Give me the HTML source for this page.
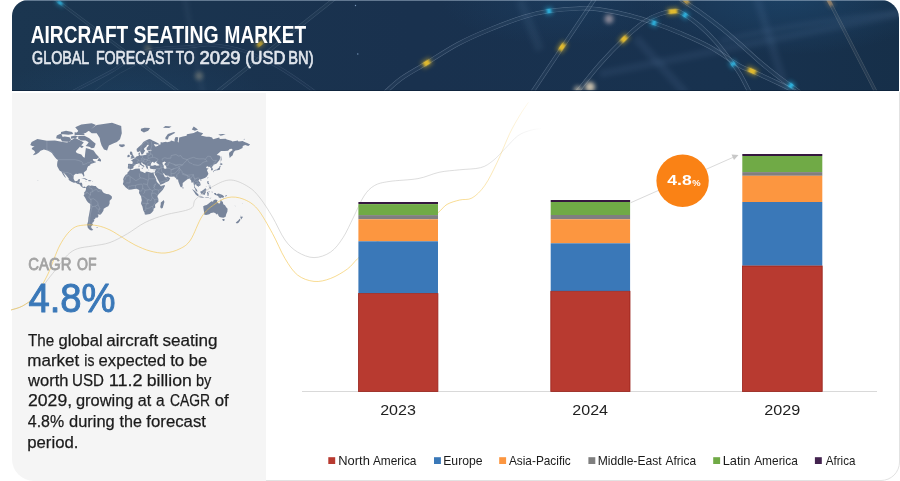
<!DOCTYPE html>
<html lang="en"><head><meta charset="utf-8"><title>Aircraft Seating Market</title>
<style>
html,body{margin:0;padding:0;background:#fff;}
body{width:900px;height:481px;overflow:hidden;position:relative;font-family:"Liberation Sans", sans-serif;}
svg{display:block;position:absolute;left:0;top:0;}
svg text{font-family:"Liberation Sans", sans-serif;}
</style></head><body>
<svg width="900" height="481" viewBox="0 0 900 481">
<defs>
<linearGradient id="hg" x1="0" y1="0" x2="1" y2="0">
<stop offset="0" stop-color="#1b3650"/><stop offset="0.45" stop-color="#19314e"/><stop offset="0.8" stop-color="#18324f"/><stop offset="1" stop-color="#162f49"/>
</linearGradient>
<clipPath id="card"><path d="M12 481V16A16 16 0 0 1 28 0H880A18 18 0 0 1 898 18V481Z"/></clipPath>
<clipPath id="hdr"><path d="M12 91V16A16 16 0 0 1 28 0H881A18 18 0 0 1 899 18V91Z"/></clipPath>
</defs>
<rect width="900" height="481" fill="#fff"/>
<!-- right panel -->
<path d="M899.5 92V462A18.500 18.500 0 0 1 881 480.500H266" fill="none" stroke="#e2e2e2" stroke-width="1"/>
<!-- left panel -->
<path d="M12 93H266V481H34A22 22 0 0 1 12 459Z" fill="#f5f5f5"/>
<!-- header -->
<g clip-path="url(#hdr)">
<rect x="12" y="0" width="888" height="91" fill="url(#hg)"/>
<defs><filter id="gl" x="-100%" y="-100%" width="300%" height="300%"><feGaussianBlur stdDeviation="2.2"/></filter><filter id="gs" x="-50%" y="-50%" width="200%" height="200%"><feGaussianBlur stdDeviation="1.0 0.35"/></filter><filter id="bb" x="-20%" y="-20%" width="140%" height="140%"><feGaussianBlur stdDeviation="2.5"/></filter><filter id="bg6" x="-50%" y="-50%" width="200%" height="200%"><feGaussianBlur stdDeviation="5"/></filter><radialGradient id="rg1" cx="0.5" cy="0.5" r="0.5"><stop offset="0" stop-color="#25669c" stop-opacity="0.30"/><stop offset="1" stop-color="#2a6aa0" stop-opacity="0"/></radialGradient></defs><ellipse cx="790" cy="-5" rx="150" ry="60" fill="url(#rg1)"/><ellipse cx="560" cy="0" rx="120" ry="45" fill="url(#rg1)" opacity="0.5"/><ellipse cx="130" cy="95" rx="140" ry="40" fill="url(#rg1)" opacity="0.45"/><g filter="url(#bb)" fill="none" stroke="#8fb0d8" stroke-opacity="0.085"><path d="M600 74 Q 720 50 900 14" stroke-width="7"/><path d="M720 41 Q 800 22 900 12" stroke-width="5"/><path d="M757 -2 L 787 94" stroke-width="8"/><path d="M636 38 L 686 94" stroke-width="8"/><path d="M520 0 L 540 50" stroke-width="9" stroke-opacity="0.08"/></g><mask id="tm1" maskUnits="userSpaceOnUse" x="0" y="-10" width="900" height="120"><rect x="0" y="-10" width="900" height="120" fill="#000"/><path d="M380.0 98.0C381.1 96.8 383.0 94.3 386.7 91.0C390.4 87.7 395.3 82.7 402.0 78.0C408.7 73.3 417.4 68.7 426.7 63.0C436.0 57.3 447.3 49.7 458.0 44.0C468.7 38.3 479.9 33.5 491.0 29.0C502.1 24.4 514.7 19.7 524.4 16.7C534.1 13.7 539.7 12.4 549.0 11.0C558.3 9.6 571.5 8.7 580.0 8.4C588.5 8.2 591.7 8.3 600.0 9.5C608.3 10.7 621.0 13.2 630.0 15.5C639.0 17.8 645.7 20.1 654.0 23.0C662.3 25.9 670.7 29.0 680.0 33.0C689.3 37.0 700.0 41.5 710.0 47.0C720.0 52.5 733.0 62.0 740.0 66.0C747.0 70.0 745.3 68.0 752.0 71.0C758.7 74.0 772.0 80.2 780.0 84.0C788.0 87.8 796.7 92.3 800.0 94.0" fill="none" stroke="#fff" stroke-width="4.4"/><path d="M380.0 98.0C381.1 96.8 383.0 94.3 386.7 91.0C390.4 87.7 395.3 82.7 402.0 78.0C408.7 73.3 417.4 68.7 426.7 63.0C436.0 57.3 447.3 49.7 458.0 44.0C468.7 38.3 479.9 33.5 491.0 29.0C502.1 24.4 514.7 19.7 524.4 16.7C534.1 13.7 539.7 12.4 549.0 11.0C558.3 9.6 571.5 8.7 580.0 8.4C588.5 8.2 591.7 8.3 600.0 9.5C608.3 10.7 621.0 13.2 630.0 15.5C639.0 17.8 645.7 20.1 654.0 23.0C662.3 25.9 670.7 29.0 680.0 33.0C689.3 37.0 700.0 41.5 710.0 47.0C720.0 52.5 733.0 62.0 740.0 66.0C747.0 70.0 745.3 68.0 752.0 71.0C758.7 74.0 772.0 80.2 780.0 84.0C788.0 87.8 796.7 92.3 800.0 94.0" fill="none" stroke="#000" stroke-width="3.0000000000000004"/></mask><path d="M380.0 98.0C381.1 96.8 383.0 94.3 386.7 91.0C390.4 87.7 395.3 82.7 402.0 78.0C408.7 73.3 417.4 68.7 426.7 63.0C436.0 57.3 447.3 49.7 458.0 44.0C468.7 38.3 479.9 33.5 491.0 29.0C502.1 24.4 514.7 19.7 524.4 16.7C534.1 13.7 539.7 12.4 549.0 11.0C558.3 9.6 571.5 8.7 580.0 8.4C588.5 8.2 591.7 8.3 600.0 9.5C608.3 10.7 621.0 13.2 630.0 15.5C639.0 17.8 645.7 20.1 654.0 23.0C662.3 25.9 670.7 29.0 680.0 33.0C689.3 37.0 700.0 41.5 710.0 47.0C720.0 52.5 733.0 62.0 740.0 66.0C747.0 70.0 745.3 68.0 752.0 71.0C758.7 74.0 772.0 80.2 780.0 84.0C788.0 87.8 796.7 92.3 800.0 94.0" fill="none" stroke="#c9d9ee" stroke-opacity="0.05" stroke-width="4.4"/><path d="M380.0 98.0C381.1 96.8 383.0 94.3 386.7 91.0C390.4 87.7 395.3 82.7 402.0 78.0C408.7 73.3 417.4 68.7 426.7 63.0C436.0 57.3 447.3 49.7 458.0 44.0C468.7 38.3 479.9 33.5 491.0 29.0C502.1 24.4 514.7 19.7 524.4 16.7C534.1 13.7 539.7 12.4 549.0 11.0C558.3 9.6 571.5 8.7 580.0 8.4C588.5 8.2 591.7 8.3 600.0 9.5C608.3 10.7 621.0 13.2 630.0 15.5C639.0 17.8 645.7 20.1 654.0 23.0C662.3 25.9 670.7 29.0 680.0 33.0C689.3 37.0 700.0 41.5 710.0 47.0C720.0 52.5 733.0 62.0 740.0 66.0C747.0 70.0 745.3 68.0 752.0 71.0C758.7 74.0 772.0 80.2 780.0 84.0C788.0 87.8 796.7 92.3 800.0 94.0" fill="none" stroke="#c9d9ee" stroke-opacity="0.24" stroke-width="4.800000000000001" mask="url(#tm1)"/><mask id="tm2" maskUnits="userSpaceOnUse" x="0" y="-10" width="900" height="120"><rect x="0" y="-10" width="900" height="120" fill="#000"/><path d="M572.0 98.0C573.0 96.8 573.3 96.7 578.0 91.0C582.7 85.3 592.3 72.7 600.0 64.0C607.7 55.3 616.7 46.0 624.0 39.0C631.3 32.0 638.0 26.2 644.0 22.0C650.0 17.8 654.7 15.8 660.0 14.0C665.3 12.2 671.8 10.8 676.0 11.0C680.2 11.2 681.0 12.5 685.0 15.0C689.0 17.5 694.8 21.5 700.0 26.0C705.2 30.5 711.0 36.3 716.0 42.0C721.0 47.7 726.0 54.7 730.0 60.0C734.0 65.3 736.7 68.5 740.0 74.0C743.3 79.5 748.3 89.8 750.0 93.0" fill="none" stroke="#fff" stroke-width="4.4"/><path d="M572.0 98.0C573.0 96.8 573.3 96.7 578.0 91.0C582.7 85.3 592.3 72.7 600.0 64.0C607.7 55.3 616.7 46.0 624.0 39.0C631.3 32.0 638.0 26.2 644.0 22.0C650.0 17.8 654.7 15.8 660.0 14.0C665.3 12.2 671.8 10.8 676.0 11.0C680.2 11.2 681.0 12.5 685.0 15.0C689.0 17.5 694.8 21.5 700.0 26.0C705.2 30.5 711.0 36.3 716.0 42.0C721.0 47.7 726.0 54.7 730.0 60.0C734.0 65.3 736.7 68.5 740.0 74.0C743.3 79.5 748.3 89.8 750.0 93.0" fill="none" stroke="#000" stroke-width="3.0000000000000004"/></mask><path d="M572.0 98.0C573.0 96.8 573.3 96.7 578.0 91.0C582.7 85.3 592.3 72.7 600.0 64.0C607.7 55.3 616.7 46.0 624.0 39.0C631.3 32.0 638.0 26.2 644.0 22.0C650.0 17.8 654.7 15.8 660.0 14.0C665.3 12.2 671.8 10.8 676.0 11.0C680.2 11.2 681.0 12.5 685.0 15.0C689.0 17.5 694.8 21.5 700.0 26.0C705.2 30.5 711.0 36.3 716.0 42.0C721.0 47.7 726.0 54.7 730.0 60.0C734.0 65.3 736.7 68.5 740.0 74.0C743.3 79.5 748.3 89.8 750.0 93.0" fill="none" stroke="#c9d9ee" stroke-opacity="0.05" stroke-width="4.4"/><path d="M572.0 98.0C573.0 96.8 573.3 96.7 578.0 91.0C582.7 85.3 592.3 72.7 600.0 64.0C607.7 55.3 616.7 46.0 624.0 39.0C631.3 32.0 638.0 26.2 644.0 22.0C650.0 17.8 654.7 15.8 660.0 14.0C665.3 12.2 671.8 10.8 676.0 11.0C680.2 11.2 681.0 12.5 685.0 15.0C689.0 17.5 694.8 21.5 700.0 26.0C705.2 30.5 711.0 36.3 716.0 42.0C721.0 47.7 726.0 54.7 730.0 60.0C734.0 65.3 736.7 68.5 740.0 74.0C743.3 79.5 748.3 89.8 750.0 93.0" fill="none" stroke="#c9d9ee" stroke-opacity="0.24" stroke-width="4.800000000000001" mask="url(#tm2)"/><mask id="tm3" maskUnits="userSpaceOnUse" x="0" y="-10" width="900" height="120"><rect x="0" y="-10" width="900" height="120" fill="#000"/><path d="M528.3 98 L 596.7 -4" fill="none" stroke="#fff" stroke-width="4.2"/><path d="M528.3 98 L 596.7 -4" fill="none" stroke="#000" stroke-width="2.8000000000000003"/></mask><path d="M528.3 98 L 596.7 -4" fill="none" stroke="#c9d9ee" stroke-opacity="0.05" stroke-width="4.2"/><path d="M528.3 98 L 596.7 -4" fill="none" stroke="#c9d9ee" stroke-opacity="0.24" stroke-width="4.6000000000000005" mask="url(#tm3)"/><mask id="tm4" maskUnits="userSpaceOnUse" x="0" y="-10" width="900" height="120"><rect x="0" y="-10" width="900" height="120" fill="#000"/><path d="M678.0 -4.0C678.7 -3.3 678.3 -2.7 682.0 0.0C685.7 2.7 693.7 7.5 700.0 12.0C706.3 16.5 713.3 21.7 720.0 27.0C726.7 32.3 733.3 38.2 740.0 44.0C746.7 49.8 753.3 56.3 760.0 62.0C766.7 67.7 774.3 73.7 780.0 78.0C785.7 82.3 790.2 85.2 794.0 88.0C797.8 90.8 801.5 93.8 803.0 95.0" fill="none" stroke="#fff" stroke-width="4.4"/><path d="M678.0 -4.0C678.7 -3.3 678.3 -2.7 682.0 0.0C685.7 2.7 693.7 7.5 700.0 12.0C706.3 16.5 713.3 21.7 720.0 27.0C726.7 32.3 733.3 38.2 740.0 44.0C746.7 49.8 753.3 56.3 760.0 62.0C766.7 67.7 774.3 73.7 780.0 78.0C785.7 82.3 790.2 85.2 794.0 88.0C797.8 90.8 801.5 93.8 803.0 95.0" fill="none" stroke="#000" stroke-width="3.0000000000000004"/></mask><path d="M678.0 -4.0C678.7 -3.3 678.3 -2.7 682.0 0.0C685.7 2.7 693.7 7.5 700.0 12.0C706.3 16.5 713.3 21.7 720.0 27.0C726.7 32.3 733.3 38.2 740.0 44.0C746.7 49.8 753.3 56.3 760.0 62.0C766.7 67.7 774.3 73.7 780.0 78.0C785.7 82.3 790.2 85.2 794.0 88.0C797.8 90.8 801.5 93.8 803.0 95.0" fill="none" stroke="#c9d9ee" stroke-opacity="0.05" stroke-width="4.4"/><path d="M678.0 -4.0C678.7 -3.3 678.3 -2.7 682.0 0.0C685.7 2.7 693.7 7.5 700.0 12.0C706.3 16.5 713.3 21.7 720.0 27.0C726.7 32.3 733.3 38.2 740.0 44.0C746.7 49.8 753.3 56.3 760.0 62.0C766.7 67.7 774.3 73.7 780.0 78.0C785.7 82.3 790.2 85.2 794.0 88.0C797.8 90.8 801.5 93.8 803.0 95.0" fill="none" stroke="#c9d9ee" stroke-opacity="0.24" stroke-width="4.800000000000001" mask="url(#tm4)"/><mask id="tm5" maskUnits="userSpaceOnUse" x="0" y="-10" width="900" height="120"><rect x="0" y="-10" width="900" height="120" fill="#000"/><path d="M826.5 -4 L 877 94" fill="none" stroke="#fff" stroke-width="3.6"/><path d="M826.5 -4 L 877 94" fill="none" stroke="#000" stroke-width="2.2"/></mask><path d="M826.5 -4 L 877 94" fill="none" stroke="#d9d2c4" stroke-opacity="0.08" stroke-width="3.6"/><path d="M826.5 -4 L 877 94" fill="none" stroke="#d9d2c4" stroke-opacity="0.16" stroke-width="4.0" mask="url(#tm5)"/><mask id="tm6" maskUnits="userSpaceOnUse" x="0" y="-10" width="900" height="120"><rect x="0" y="-10" width="900" height="120" fill="#000"/><path d="M213 95 L 338 -4" fill="none" stroke="#fff" stroke-width="3.8"/><path d="M213 95 L 338 -4" fill="none" stroke="#000" stroke-width="2.4"/></mask><path d="M213 95 L 338 -4" fill="none" stroke="#c9d9ee" stroke-opacity="0.04" stroke-width="3.8"/><path d="M213 95 L 338 -4" fill="none" stroke="#c9d9ee" stroke-opacity="0.13" stroke-width="4.2" mask="url(#tm6)"/><mask id="tm7" maskUnits="userSpaceOnUse" x="0" y="-10" width="900" height="120"><rect x="0" y="-10" width="900" height="120" fill="#000"/><path d="M51 -4 L 183 95" fill="none" stroke="#fff" stroke-width="3.2"/><path d="M51 -4 L 183 95" fill="none" stroke="#000" stroke-width="1.8000000000000003"/></mask><path d="M51 -4 L 183 95" fill="none" stroke="#c9d9ee" stroke-opacity="0.03" stroke-width="3.2"/><path d="M51 -4 L 183 95" fill="none" stroke="#c9d9ee" stroke-opacity="0.12" stroke-width="3.6" mask="url(#tm7)"/><mask id="tm8" maskUnits="userSpaceOnUse" x="0" y="-10" width="900" height="120"><rect x="0" y="-10" width="900" height="120" fill="#000"/><path d="M68.0 96.0C69.0 95.2 66.7 95.2 74.0 91.0C81.3 86.8 100.2 77.7 112.0 71.0C123.8 64.3 132.0 55.0 145.0 51.0C158.0 47.0 178.8 47.7 190.0 46.7C201.2 45.7 203.0 44.3 212.0 45.0C221.0 45.7 233.0 47.3 244.0 51.0C255.0 54.7 266.8 60.7 278.0 67.0C289.2 73.3 304.3 84.2 311.0 89.0C317.7 93.8 316.8 94.8 318.0 96.0" fill="none" stroke="#fff" stroke-width="3.4"/><path d="M68.0 96.0C69.0 95.2 66.7 95.2 74.0 91.0C81.3 86.8 100.2 77.7 112.0 71.0C123.8 64.3 132.0 55.0 145.0 51.0C158.0 47.0 178.8 47.7 190.0 46.7C201.2 45.7 203.0 44.3 212.0 45.0C221.0 45.7 233.0 47.3 244.0 51.0C255.0 54.7 266.8 60.7 278.0 67.0C289.2 73.3 304.3 84.2 311.0 89.0C317.7 93.8 316.8 94.8 318.0 96.0" fill="none" stroke="#000" stroke-width="2.0"/></mask><path d="M68.0 96.0C69.0 95.2 66.7 95.2 74.0 91.0C81.3 86.8 100.2 77.7 112.0 71.0C123.8 64.3 132.0 55.0 145.0 51.0C158.0 47.0 178.8 47.7 190.0 46.7C201.2 45.7 203.0 44.3 212.0 45.0C221.0 45.7 233.0 47.3 244.0 51.0C255.0 54.7 266.8 60.7 278.0 67.0C289.2 73.3 304.3 84.2 311.0 89.0C317.7 93.8 316.8 94.8 318.0 96.0" fill="none" stroke="#c9d9ee" stroke-opacity="0.025" stroke-width="3.4"/><path d="M68.0 96.0C69.0 95.2 66.7 95.2 74.0 91.0C81.3 86.8 100.2 77.7 112.0 71.0C123.8 64.3 132.0 55.0 145.0 51.0C158.0 47.0 178.8 47.7 190.0 46.7C201.2 45.7 203.0 44.3 212.0 45.0C221.0 45.7 233.0 47.3 244.0 51.0C255.0 54.7 266.8 60.7 278.0 67.0C289.2 73.3 304.3 84.2 311.0 89.0C317.7 93.8 316.8 94.8 318.0 96.0" fill="none" stroke="#c9d9ee" stroke-opacity="0.1" stroke-width="3.8" mask="url(#tm8)"/><path d="M185 -2 Q 192 40 203 94" fill="none" stroke="#9fb6d2" stroke-opacity="0.10" stroke-width="3" filter="url(#bb)"/><path d="M90 94 Q 120 70 152 58" fill="none" stroke="#c9d8ea" stroke-opacity="0.08" stroke-width="1"/><circle cx="355.5" cy="5.500" r="0.7" fill="#9fc0e8" opacity="0.7"/><circle cx="357.8" cy="54" r="0.7" fill="#9fc0e8" opacity="0.7"/><circle cx="157" cy="36" r="0.6" fill="#9fc0e8" opacity="0.5"/><g transform="translate(426.7 63) rotate(-31)"><rect x="-5.25" y="-3.8" width="10.5" height="7.6" fill="#f3c62c" opacity="0.42" filter="url(#gl)"/><rect x="-3.25" y="-2.3" width="6.5" height="4.6" fill="#f3c62c" opacity="0.85" filter="url(#gs)"/></g><g transform="translate(549 11) rotate(-10)"><rect x="-3.75" y="-3.8" width="7.5" height="7.6" fill="#2fc4f2" opacity="0.42" filter="url(#gl)"/><rect x="-1.75" y="-2.3" width="3.5" height="4.6" fill="#2fc4f2" opacity="0.85" filter="url(#gs)"/></g><g transform="translate(562 47) rotate(-56)"><rect x="-5.5" y="-3.7" width="11" height="7.4" fill="#f3c62c" opacity="0.42" filter="url(#gl)"/><rect x="-3.5" y="-2.2" width="7" height="4.4" fill="#f3c62c" opacity="0.85" filter="url(#gs)"/></g><g transform="translate(654 23) rotate(20)"><rect x="-3.75" y="-3.8" width="7.5" height="7.6" fill="#2fc4f2" opacity="0.42" filter="url(#gl)"/><rect x="-1.75" y="-2.3" width="3.5" height="4.6" fill="#2fc4f2" opacity="0.85" filter="url(#gs)"/></g><g transform="translate(624 39) rotate(-45)"><rect x="-5.25" y="-3.8" width="10.5" height="7.6" fill="#f3c62c" opacity="0.42" filter="url(#gl)"/><rect x="-3.25" y="-2.3" width="6.5" height="4.6" fill="#f3c62c" opacity="0.85" filter="url(#gs)"/></g><g transform="translate(673 11.5) rotate(-5)"><rect x="-6.0" y="-3.8" width="12" height="7.6" fill="#f3c62c" opacity="0.42" filter="url(#gl)"/><rect x="-4.0" y="-2.3" width="8" height="4.6" fill="#f3c62c" opacity="0.85" filter="url(#gs)"/></g><g transform="translate(685 15) rotate(35)"><rect x="-3.75" y="-3.8" width="7.5" height="7.6" fill="#2fc4f2" opacity="0.42" filter="url(#gl)"/><rect x="-1.75" y="-2.3" width="3.5" height="4.6" fill="#2fc4f2" opacity="0.85" filter="url(#gs)"/></g><g transform="translate(733 64) rotate(57)"><rect x="-3.5" y="-3.8" width="7" height="7.6" fill="#2fc4f2" opacity="0.42" filter="url(#gl)"/><rect x="-1.5" y="-2.3" width="3" height="4.6" fill="#2fc4f2" opacity="0.85" filter="url(#gs)"/></g><g transform="translate(752 71) rotate(25)"><rect x="-5.75" y="-3.8" width="11.5" height="7.6" fill="#f3c62c" opacity="0.42" filter="url(#gl)"/><rect x="-3.75" y="-2.3" width="7.5" height="4.6" fill="#f3c62c" opacity="0.85" filter="url(#gs)"/></g><g transform="translate(791 85.5) rotate(38)"><rect x="-4.0" y="-3.8" width="8" height="7.6" fill="#2fc4f2" opacity="0.42" filter="url(#gl)"/><rect x="-2.0" y="-2.3" width="4" height="4.6" fill="#2fc4f2" opacity="0.85" filter="url(#gs)"/></g><g transform="translate(60 3) rotate(33)"><rect x="-4.5" y="-3.0" width="9" height="6" fill="#2fc4f2" opacity="0.336" filter="url(#gl)"/><rect x="-2.5" y="-1.5" width="5" height="3" fill="#2fc4f2" opacity="0.68" filter="url(#gs)"/></g><g transform="translate(260 44) rotate(-38)"><rect x="-5.0" y="-3.4" width="10" height="6.8" fill="#f3c62c" opacity="0.294" filter="url(#gl)"/><rect x="-3.0" y="-1.9" width="6" height="3.8" fill="#f3c62c" opacity="0.595" filter="url(#gs)"/></g><circle cx="147.6" cy="48" r="3" fill="#d9c08a" opacity="0.35" filter="url(#gl)"/><circle cx="199" cy="76" r="4" fill="#cdbf9a" opacity="0.35" filter="url(#gl)"/><g transform="translate(686 1) rotate(40)"><rect x="-5.0" y="-3.5" width="10" height="7" fill="#e9b64a" opacity="0.294" filter="url(#gl)"/><rect x="-3.0" y="-2.0" width="6" height="4" fill="#e9b64a" opacity="0.595" filter="url(#gs)"/></g><g transform="translate(829.5 2) rotate(60)"><rect x="-6.0" y="-3.2" width="12" height="6.4" fill="#d9a66c" opacity="0.231" filter="url(#gl)"/><rect x="-4.0" y="-1.7" width="8" height="3.4" fill="#d9a66c" opacity="0.4675" filter="url(#gs)"/></g><circle cx="609" cy="19" r="4.5" fill="#e8cfd0" opacity="0.55" filter="url(#gl)"/><circle cx="590" cy="87" r="5" fill="#f5e3c4" opacity="0.8" filter="url(#gl)"/><circle cx="578" cy="90" r="4" fill="#f5e3c4" opacity="0.6" filter="url(#gl)"/><rect x="12" y="90" width="888" height="1" fill="#0c1f38" opacity="0.7"/><rect x="12" y="0" width="888" height="1" fill="#9fb2c8" opacity="0.55"/>
</g>
<text x="30.82" y="43.4" font-size="23.4" fill="#ffffff" font-weight="bold" textLength="97.38" lengthAdjust="spacingAndGlyphs">AIRCRAFT</text><text x="133.62" y="43.4" font-size="23.4" fill="#ffffff" font-weight="bold" textLength="85.07" lengthAdjust="spacingAndGlyphs">SEATING</text><text x="224.56" y="43.4" font-size="23.4" fill="#ffffff" font-weight="bold" textLength="81.48" lengthAdjust="spacingAndGlyphs">MARKET</text>
<text x="32.11" y="64.475" font-size="17.5" fill="#e1e6ed" font-weight="normal" textLength="57.22" lengthAdjust="spacingAndGlyphs" stroke="#e1e6ed" stroke-width="0.65" stroke-linejoin="round">GLOBAL</text><text x="95.89" y="64.475" font-size="17.5" fill="#e1e6ed" font-weight="normal" textLength="77.37" lengthAdjust="spacingAndGlyphs" stroke="#e1e6ed" stroke-width="0.65" stroke-linejoin="round">FORECAST</text><text x="175.85" y="64.475" font-size="17.5" fill="#e1e6ed" font-weight="normal" textLength="18.64" lengthAdjust="spacingAndGlyphs" stroke="#e1e6ed" stroke-width="0.65" stroke-linejoin="round">TO</text><text x="199.4" y="64.475" font-size="17.5" fill="#e1e6ed" font-weight="normal" textLength="41.1" lengthAdjust="spacingAndGlyphs" stroke="#e1e6ed" stroke-width="0.65" stroke-linejoin="round">2029</text><text x="245.13" y="64.475" font-size="17.5" fill="#e1e6ed" font-weight="normal" textLength="40.36" lengthAdjust="spacingAndGlyphs" stroke="#e1e6ed" stroke-width="0.65" stroke-linejoin="round">(USD</text><text x="288.35" y="64.475" font-size="17.5" fill="#e1e6ed" font-weight="normal" textLength="25.23" lengthAdjust="spacingAndGlyphs" stroke="#e1e6ed" stroke-width="0.65" stroke-linejoin="round">BN)</text>
<!-- map -->
<path d="M30.3 145.1L31.6 142.0L37.4 138.9L46.9 140.8L54.9 140.4L62.9 142.0L67.2 142.5L75.2 138.1L81.3 140.9L83.8 142.5L80.1 146.6L75.8 151.3L76.7 153.1L81.3 154.5L83.2 156.9L84.7 157.7L85.3 152.2L85.9 148.0L89.3 149.0L93.6 150.4L96.0 153.9L99.1 157.3L96.7 158.9L92.7 158.9L93.6 160.9L96.4 162.1L93.0 163.2L90.5 164.0L90.2 165.3L88.1 166.2L87.1 168.3L86.8 170.1L83.8 172.5L84.4 175.8L83.8 176.7L82.7 174.8L81.9 173.5L78.9 173.5L77.9 174.0L75.8 173.8L73.8 175.2L73.5 178.4L74.6 180.7L75.5 181.2L77.6 180.8L78.1 179.4L80.1 179.1L79.5 182.0L79.0 182.7L81.9 182.7L82.4 185.1L82.2 186.3L83.5 187.0L84.7 186.6L86.0 187.4L85.3 187.9L84.1 188.0L82.5 187.4L80.9 186.3L79.8 184.5L77.3 183.8L75.5 182.5L73.9 182.7L71.5 181.8L68.7 180.1L68.7 178.4L66.3 175.5L64.4 173.5L63.1 172.5L64.7 175.2L66.1 178.1L64.7 177.0L62.9 174.5L61.5 171.8L59.5 170.4L58.3 168.3L57.2 166.3L57.1 164.3L57.4 161.7L58.0 160.1L56.4 158.9L54.9 157.3L53.4 155.2L51.8 153.1L50.0 151.7L47.5 150.6L43.9 149.6L40.5 150.8L38.9 152.6L35.9 154.4L32.8 155.2L35.3 152.2L34.0 150.4L31.6 149.0L32.5 147.6L34.6 146.6L32.2 146.1ZM78.2 136.0L84.4 135.8L89.3 138.3L92.4 140.9L95.7 143.8L94.2 147.7L91.7 148.3L89.3 146.8L85.6 146.1L87.5 144.1L88.7 142.2L85.6 140.4L81.3 140.4L78.2 138.7ZM60.4 138.7L62.3 141.4L69.0 141.8L71.5 140.4L69.6 137.2L64.7 136.6L61.0 137.2ZM77.0 132.7L85.6 132.9L90.5 129.4L96.0 125.1L91.7 123.3L81.3 124.4L75.2 127.3L78.2 130.7ZM56.1 138.3L59.8 139.0L62.6 136.7L61.0 133.6L56.8 135.4ZM74.6 135.0L84.4 135.0L84.4 133.3L74.6 132.3ZM61.0 133.9L68.4 134.8L73.3 133.9L72.1 132.0L66.0 130.7L61.0 132.0ZM70.9 138.7L75.8 138.1L78.2 136.4L75.2 135.5L70.9 136.4ZM80.7 145.1L83.8 146.6L81.9 148.0L80.1 147.1ZM97.3 160.8L101.0 161.5L101.0 159.7L99.1 157.7ZM88.7 130.7L96.7 125.1L112.0 122.8L121.2 125.9L121.8 133.3L120.0 139.2L116.9 142.0L113.2 143.6L108.9 145.6L107.1 150.4L104.0 149.4L101.6 145.6L100.3 141.4L99.7 138.1L96.7 133.3L91.7 133.3ZM86.0 187.4L87.1 185.9L89.3 185.1L89.6 186.0L91.7 185.4L94.2 186.0L95.7 186.0L96.7 187.3L98.5 188.8L101.6 189.7L102.8 191.9L104.0 193.1L106.5 194.0L108.9 194.3L110.8 195.6L112.0 196.8L111.7 198.7L109.6 200.8L109.6 203.7L108.3 206.2L106.5 206.9L103.7 208.8L103.4 210.8L101.6 213.5L100.3 214.8L98.5 214.6L97.7 214.2L98.5 216.0L97.9 217.4L95.4 217.7L95.1 219.2L93.6 219.2L94.4 220.5L93.3 222.2L92.1 222.9L93.0 224.5L91.1 226.5L91.4 228.1L93.3 230.0L91.1 230.5L89.3 229.4L87.8 227.7L87.1 224.5L88.1 221.4L88.4 217.7L89.0 214.9L89.6 211.5L90.2 208.2L90.3 204.0L88.1 202.4L86.7 200.8L85.0 197.4L83.6 195.6L84.4 194.0L84.1 192.5L85.0 191.6L85.9 190.0ZM129.8 169.5L132.3 169.9L135.3 168.8L139.6 168.5L140.3 170.8L139.9 171.1L142.7 171.9L145.2 173.3L145.8 171.8L147.6 171.7L151.3 172.8L153.1 172.6L154.5 172.7L153.5 173.6L154.4 175.5L155.4 177.5L156.3 179.4L156.4 181.0L157.8 182.9L159.9 184.8L160.1 185.4L160.8 186.0L164.8 185.1L164.9 186.0L163.0 189.4L161.7 191.0L159.3 193.4L157.8 195.3L157.4 196.8L158.4 199.0L158.4 201.8L155.6 204.0L155.0 204.9L155.3 207.5L153.6 208.8L153.5 210.5L151.9 212.5L150.1 214.1L147.0 214.4L145.8 214.8L144.7 214.2L144.6 212.8L143.3 210.5L142.4 206.6L140.9 203.4L141.8 200.2L141.0 196.2L139.0 193.1L139.3 190.3L138.7 189.7L136.6 188.8L134.1 188.9L131.7 189.4L128.9 189.7L127.4 188.8L125.5 187.3L124.3 185.7L123.1 184.5L122.9 183.4L123.4 182.3L123.5 180.4L123.1 179.4L123.7 177.8L124.6 176.2L125.5 175.0L127.4 173.8L127.5 172.5L129.3 170.8ZM163.8 199.9L164.4 202.1L163.9 203.7L162.7 208.0L161.1 208.5L160.2 206.9L160.7 204.6L160.8 202.5L163.0 200.8ZM128.0 168.7L127.8 167.4L128.1 165.4L127.9 164.2L128.6 163.8L132.3 164.0L132.8 162.1L132.0 161.1L130.6 160.2L132.6 160.0L132.5 159.3L134.4 158.8L134.5 158.1L136.0 157.3L136.6 156.2L138.7 155.9L138.6 154.4L138.5 153.1L139.9 152.4L139.9 153.9L139.5 154.8L140.3 155.6L142.1 155.6L144.9 155.1L146.4 154.8L146.4 153.1L147.0 152.5L148.2 152.9L148.5 151.9L147.9 151.1L150.7 150.6L151.9 150.4L151.0 149.8L147.6 150.4L146.6 149.6L146.7 148.0L148.8 145.6L148.2 144.8L147.0 145.1L146.6 146.3L144.2 148.2L144.1 149.7L145.2 150.6L143.6 153.1L143.2 153.8L142.3 154.4L141.5 154.5L140.4 151.7L139.9 151.0L138.4 152.1L136.9 151.5L136.6 149.0L138.7 147.1L141.5 144.6L143.3 142.0L145.8 140.4L149.2 139.1L151.0 139.5L152.5 140.4L153.8 141.0L158.7 143.6L158.7 144.4L156.8 144.4L153.8 143.9L155.0 146.3L156.2 146.8L156.8 146.1L158.4 146.1L158.1 144.8L160.5 144.4L160.7 142.0L162.1 142.5L166.0 141.7L167.0 142.3L170.3 141.4L171.0 140.6L174.6 141.4L174.5 139.5L175.6 137.0L178.2 137.2L178.0 139.2L177.7 142.0L178.6 142.5L179.2 137.5L182.9 136.4L186.6 135.8L186.9 134.3L193.7 133.1L197.7 131.1L198.9 132.0L203.2 133.3L201.0 135.8L202.9 136.1L206.3 136.7L209.3 136.7L212.1 137.5L213.0 139.2L214.9 138.7L219.2 137.5L219.8 138.9L225.6 138.7L226.8 139.5L231.4 140.7L232.4 141.4L237.9 140.6L238.5 141.4L242.8 141.1L244.0 141.7L247.1 143.0L250.2 144.6L248.3 146.1L245.2 145.1L242.8 146.1L242.5 148.0L238.5 149.9L235.4 150.4L233.9 151.7L233.0 153.9L232.7 155.2L231.1 156.5L229.7 158.1L229.0 153.9L229.3 152.6L232.7 149.9L231.7 148.8L229.7 149.0L228.1 150.8L224.7 151.0L221.0 151.0L218.2 153.5L216.7 155.1L219.5 155.6L220.3 156.9L219.6 160.1L216.7 163.6L214.9 164.2L213.6 164.7L213.0 166.0L211.8 166.9L212.8 168.7L212.9 169.9L211.5 170.4L211.0 169.4L211.2 168.3L210.2 167.6L209.9 166.7L208.1 167.3L208.3 166.0L206.0 167.1L206.6 168.3L208.7 168.5L206.9 170.1L207.8 172.2L208.4 173.5L208.1 174.6L206.9 176.5L205.3 177.8L203.5 178.6L201.3 179.2L200.9 179.9L199.8 179.1L198.9 180.1L198.5 180.8L200.1 182.6L200.6 184.5L200.4 185.4L199.2 186.0L198.0 187.1L198.0 186.2L196.7 185.7L196.1 184.8L195.4 184.2L194.9 184.8L194.5 186.3L195.1 187.6L195.8 188.3L196.9 189.7L197.5 191.6L197.0 191.7L195.7 190.8L195.1 189.1L194.6 188.0L193.9 187.3L194.1 185.7L193.5 183.2L193.2 182.0L192.1 182.7L191.4 182.5L191.2 180.4L190.2 179.4L189.7 178.4L188.1 178.9L186.9 179.4L186.6 180.1L185.1 181.1L184.0 182.1L182.7 182.9L182.7 184.5L182.5 186.2L182.0 186.8L181.1 187.5L180.3 186.5L179.6 184.8L178.9 182.9L178.3 181.3L178.1 179.4L176.8 179.5L175.9 178.6L176.5 178.2L174.9 177.5L174.3 176.6L171.4 176.7L168.8 176.4L168.2 175.5L167.0 175.8L165.1 174.9L164.2 173.5L163.4 173.3L163.0 173.8L164.2 175.7L164.7 177.0L165.1 176.3L165.2 177.3L166.7 177.3L167.9 176.2L168.2 177.1L169.5 177.8L170.2 178.4L169.4 179.7L168.9 180.7L167.6 181.6L165.7 182.3L163.6 183.5L161.1 184.6L160.2 184.7L159.7 183.2L158.7 181.3L157.4 179.1L156.4 176.8L155.0 174.8L154.9 173.8L154.5 172.7L155.0 171.6L155.6 169.7L155.7 168.9L153.8 169.2L152.2 169.0L150.4 168.8L149.8 167.6L149.6 166.5L151.3 165.8L152.8 165.7L155.0 165.1L156.8 165.8L159.0 165.4L158.7 164.3L156.2 162.8L157.4 161.3L155.0 161.9L154.1 163.2L153.1 161.7L152.2 161.9L151.1 163.6L150.7 165.1L151.3 165.7L149.6 166.0L148.2 166.0L147.5 166.3L148.1 168.0L147.5 169.0L146.6 168.3L145.5 165.4L145.4 164.9L143.3 164.0L141.9 162.5L141.1 162.6L141.2 163.6L142.1 164.7L143.3 165.2L144.9 166.4L143.9 166.2L143.6 166.9L143.3 168.0L143.1 168.0L143.3 166.9L142.4 166.0L141.1 165.3L139.9 164.4L139.6 163.6L138.8 163.3L138.1 163.7L136.6 164.1L135.5 164.2L135.5 165.1L134.0 165.8L133.3 166.9L133.6 167.4L133.1 168.2L132.3 168.8L130.7 168.9L130.1 169.4L129.6 168.8L129.0 168.5ZM130.1 158.9L131.4 158.7L134.3 158.0L134.5 156.7L133.7 156.5L133.4 155.4L132.5 154.2L132.3 152.5L131.4 151.6L130.4 151.6L129.8 153.1L130.4 154.8L131.7 155.2L131.5 156.2L130.7 156.5L131.0 157.3L130.3 157.6L131.7 157.8ZM127.4 157.3L129.6 157.1L129.8 155.6L128.9 154.5L127.4 155.6ZM118.8 145.1L120.0 146.6L122.1 147.2L124.9 145.9L124.3 144.3L121.2 144.4L119.7 144.2ZM140.9 130.7L143.9 132.4L148.2 130.7L150.1 128.0L144.6 127.7L140.9 128.7ZM165.4 139.2L167.9 139.6L168.8 136.4L175.3 132.7L174.0 132.0L167.9 133.9L165.4 137.5ZM191.8 129.4L194.9 130.7L198.0 129.4L193.7 126.6ZM218.2 134.6L222.5 133.9L225.6 134.6L220.7 135.8ZM163.0 127.7L169.1 128.0L171.6 126.6L165.4 125.9ZM243.1 139.2L245.2 138.7L244.6 139.5ZM220.7 162.1L221.6 159.7L221.3 157.3L221.0 155.4L220.7 157.3L220.7 159.7ZM213.3 172.5L214.2 170.9L215.2 170.6L216.7 170.3L217.6 170.3L218.8 169.9L220.0 169.4L220.1 167.6L220.7 166.5L220.3 165.6L219.5 166.2L219.2 167.6L217.6 168.7L217.0 169.4L215.2 169.7L213.9 170.4L213.2 171.5ZM219.5 165.1L220.4 164.3L220.6 162.5L221.6 163.4L222.8 164.0L221.6 165.1L220.1 164.7ZM207.3 178.1L208.3 176.8L208.0 178.4ZM200.2 180.7L201.3 180.1L201.3 181.0L200.4 181.1ZM182.6 186.5L183.7 187.9L182.9 188.8L182.5 187.9ZM207.5 181.0L208.6 181.1L208.4 182.6L209.6 184.5L209.0 184.2L207.8 184.0L207.2 182.6ZM208.4 188.2L210.6 186.5L211.2 188.2L210.6 188.9L209.3 187.9ZM208.4 185.7L209.6 185.7L210.6 185.4L210.2 186.3L209.0 186.6ZM205.5 187.3L206.9 185.7L206.3 186.8ZM192.0 189.1L193.7 190.0L195.2 191.3L197.0 193.1L198.6 194.7L198.5 196.1L197.4 195.9L195.5 194.3L194.2 191.9ZM198.2 196.5L199.8 196.5L201.7 196.6L203.8 197.2L203.7 197.8L201.0 197.5L198.9 197.0ZM204.4 197.6L206.6 197.6L209.0 197.6L208.7 198.0L206.0 198.0ZM200.4 191.4L201.7 191.0L202.9 190.3L204.4 189.1L205.3 188.2L206.6 189.3L205.8 190.3L206.0 191.9L205.0 193.7L204.7 195.0L203.5 194.6L202.0 194.3L201.0 193.4L200.4 192.3ZM206.9 195.9L207.5 194.3L206.9 192.2L207.8 191.8L210.2 191.6L209.3 192.3L207.7 192.3L208.1 193.1L209.0 193.1L208.4 194.0L209.0 195.3L208.4 195.8L207.8 194.7L207.4 195.9ZM211.8 191.3L212.5 191.9L212.1 193.0L211.8 192.2ZM213.9 193.0L215.8 193.0L216.4 194.5L218.2 193.5L220.1 194.1L222.5 195.1L224.2 196.4L223.1 197.4L224.4 198.7L225.9 199.0L223.8 198.5L221.9 197.2L220.7 198.2L218.8 197.4L218.2 195.9L216.4 195.2L215.2 195.0L214.5 194.2ZM224.7 195.9L226.8 195.1L226.8 195.9L225.3 196.4ZM209.6 198.7L211.5 197.7L209.9 198.0ZM203.2 206.2L203.5 208.8L204.1 212.2L204.1 214.4L206.0 214.9L209.3 214.2L210.9 213.1L213.9 212.5L215.8 213.4L217.0 214.8L217.9 213.5L218.2 215.3L219.5 216.9L221.6 217.6L223.5 217.7L225.6 216.7L226.2 214.2L227.4 211.5L227.6 208.8L226.2 207.2L225.0 205.3L223.3 204.3L222.8 201.8L221.6 201.2L221.0 199.2L220.4 200.5L220.1 203.2L218.8 203.4L217.0 202.1L217.5 200.1L215.2 199.6L213.6 200.2L213.0 201.8L211.5 201.2L209.6 202.7L208.4 203.7L206.6 204.9L204.7 205.6ZM222.3 219.0L224.6 219.0L224.4 220.7L223.1 221.1L222.5 219.9ZM239.5 214.5L240.6 216.0L241.6 216.7L243.1 216.8L242.2 218.1L241.1 219.6L240.8 218.3L240.2 218.0L240.8 216.7ZM239.5 218.8L240.5 219.7L239.6 221.3L238.5 222.8L237.0 223.4L235.7 222.8L237.0 221.4L238.5 220.3ZM81.3 178.8L83.2 178.0L85.6 178.6L87.9 179.9L85.8 180.1L85.6 179.6L83.2 178.5ZM87.8 181.0L88.9 180.1L90.5 180.2L91.5 180.9L89.9 181.3ZM85.4 181.1L86.7 181.2L85.9 181.5ZM92.2 181.0L93.2 181.1L92.7 181.4ZM96.0 227.3L97.9 227.3L97.3 227.9ZM138.6 165.8L139.5 165.8L139.3 167.1L138.7 167.3ZM138.8 164.7L139.3 164.3L139.3 165.4L138.9 165.4ZM141.2 168.0L143.0 167.8L142.7 168.9ZM147.9 169.7L149.6 169.9L148.5 170.2ZM153.5 170.1L154.7 169.7L154.1 170.4ZM37.7 179.9L38.3 180.2L37.9 180.7ZM234.2 205.1L236.0 206.4L235.4 206.2ZM242.5 203.4L243.2 203.5L242.8 203.9Z" fill="#78859b"/>
<path d="M58.0 159.7L75.2 159.7L78.9 160.5L81.6 161.7L82.8 162.8L82.8 164.7L85.0 164.1L86.5 163.6L87.6 162.8L89.6 162.8L91.1 161.1L92.4 162.7M46.9 140.8L46.9 150.1L50.6 150.8L53.7 154.4M61.5 171.8L63.0 171.8L65.3 172.6L67.1 172.6L68.1 172.3L69.3 173.8L70.6 173.6L71.8 174.5L72.5 175.8L73.8 176.2M76.9 183.5L77.6 181.8L78.7 181.5L79.3 181.0M101.9 189.9L100.0 191.1L97.9 191.6L96.7 189.4L94.2 190.0L92.7 191.9L90.5 192.2L90.5 195.1L88.7 196.8L90.2 199.3L93.4 198.7L96.4 200.8L97.9 202.7L98.1 204.9L99.4 207.5L100.0 208.5L98.2 211.6L100.7 214.0M90.8 203.4L92.1 206.8L91.4 209.5L90.5 213.5L89.9 217.7L89.4 222.2L89.0 226.1L91.4 227.9M89.3 185.1L89.0 187.6L92.1 188.8L92.4 191.8M84.2 194.6L87.3 192.6L90.5 195.1M90.8 203.4L91.1 199.3L90.2 199.3M92.1 206.8L95.1 206.2L97.9 204.9L98.1 204.9M95.1 206.2L97.9 209.5L100.0 208.5M85.0 191.6L87.3 192.6M139.3 173.4L139.6 177.1L140.9 177.8L142.1 178.4L142.7 178.1L148.2 180.4L148.2 180.1L148.8 178.8L148.8 172.4M148.8 178.8L156.2 178.8M128.2 175.0L125.5 175.0M128.2 175.3L130.6 176.8L134.2 179.4L135.5 180.6L136.1 180.6L140.9 177.8M130.1 182.9L126.4 182.9L126.0 183.4M135.7 185.3L137.8 184.5L141.8 184.0M148.2 180.4L147.3 184.5L147.9 186.3M155.9 183.7L153.8 187.6L155.0 189.4L158.7 190.1L161.1 189.4L163.0 187.6L159.9 185.4M141.0 196.2L143.3 196.2L147.0 199.3L148.2 199.3L151.0 200.8L152.3 197.6L151.4 195.0L151.7 193.4L152.7 191.1L150.3 189.4L144.9 190.3L144.4 192.8L143.3 193.7M143.6 210.5L145.8 210.4L145.8 208.0L147.6 208.4L149.5 207.9L151.6 206.4L152.7 206.5L153.1 208.8M145.8 208.0L145.8 206.2L146.4 203.9L149.0 203.5M140.9 203.2L144.9 203.3L147.9 203.4L147.0 200.5L148.2 200.5L148.2 199.3M151.7 193.4L154.4 193.1L156.6 194.3L157.6 195.4M152.3 197.6L154.6 199.5L158.3 199.0M158.7 193.5L158.7 190.1M154.6 199.5L155.2 202.4L153.7 204.9L152.7 206.5M123.5 179.2L125.5 179.2L125.5 178.1L126.1 176.2L128.2 176.2L128.2 175.3M130.1 182.9L130.1 176.8M135.2 188.6L135.7 185.3L134.1 185.7L131.8 185.7L130.1 186.2L128.6 186.2L128.3 187.8L128.9 189.7M141.8 184.0L142.7 185.7L142.7 187.9L141.5 191.1L139.5 191.1M142.7 187.9L144.9 190.3M147.3 184.5L143.0 183.8M147.9 186.3L150.3 189.4M153.8 187.6L154.3 186.6L153.9 185.0L155.9 183.7M155.0 189.4L154.4 189.9L152.7 190.2L152.7 191.1M132.4 164.0L135.5 164.8M135.0 158.0L137.2 159.3L138.5 159.7L138.1 160.8L137.2 161.9L137.8 163.6L138.1 163.7M142.2 155.7L142.5 158.1L141.0 158.7L142.0 160.0L141.5 160.9L139.4 160.9L138.1 160.8M147.9 155.6L148.2 158.5L147.3 159.7L145.0 159.3L142.5 158.1M148.2 158.5L152.5 157.3L154.4 157.3L158.1 159.3L157.0 161.2M147.3 159.7L147.1 160.5L149.8 160.3L150.8 162.5L151.7 162.6M140.4 151.3L141.2 149.0L140.9 147.1L142.4 144.6L144.6 142.0L146.1 141.4M146.1 141.4L148.1 142.7L148.2 144.8M151.2 141.3L151.9 145.6L150.6 149.9M150.7 150.8L150.4 152.6L150.8 153.9L152.5 154.8L152.5 157.3M146.4 153.9L149.5 153.9L150.8 153.9M147.9 155.6L149.5 155.6L150.8 153.9M159.0 165.4L160.2 165.8L161.0 166.8L160.5 168.5L159.5 168.5L156.0 168.8L155.6 169.4M142.0 160.0L143.9 159.9L145.0 159.3M143.9 159.9L143.6 161.7L141.9 161.7L141.9 162.5M147.1 160.5L146.4 161.9L145.0 162.1L143.6 161.7M150.8 162.5L147.4 163.4L147.3 165.7L149.6 165.3L150.7 165.1M145.4 164.9L146.1 165.8L147.3 165.7M128.0 165.1L129.5 165.1L129.2 168.0L129.0 168.5M162.4 160.5L162.1 158.9L164.8 157.7L167.3 158.4L171.0 158.1L171.0 155.6L175.9 154.5L178.6 156.1L180.8 155.6L182.6 158.3L187.1 159.6M187.1 159.6L190.0 158.4L193.7 157.3L196.1 158.5L199.2 158.9L203.5 158.8L205.3 159.3L207.2 156.9L207.8 156.2L210.6 156.5L211.8 159.1L213.9 160.8L216.4 160.2L215.2 162.8L213.9 162.8L213.9 164.4L213.7 164.8M187.3 159.6L189.4 162.7L192.1 163.6L193.1 164.6L198.0 165.4L201.0 164.6L202.3 162.8L204.7 161.7L207.2 161.3L205.3 159.3M187.1 159.6L186.0 161.3L184.2 162.6L182.7 164.9L178.9 166.5L179.6 168.7L182.0 171.5L182.0 172.8L183.2 173.5L187.5 175.2L190.0 175.0L193.4 174.6L194.0 177.5L195.5 179.1L196.1 178.4L198.2 177.9L199.8 179.1M175.4 177.7L177.1 177.1L176.5 174.8L179.2 172.8L178.9 170.4L180.8 169.7M171.4 176.7L171.0 173.6L174.0 173.6L176.2 172.3L177.1 170.8L179.5 168.5L177.1 167.6L174.9 168.5L173.1 169.0L171.1 169.7L171.0 172.5L171.0 173.6M163.3 173.5L161.7 171.5L161.4 169.4L161.0 166.8M161.0 166.8L163.3 167.6M166.0 165.2L167.9 165.6L167.9 162.8L169.5 162.4L171.0 163.4L174.0 164.3L175.3 165.8L177.1 164.9L178.9 166.5M166.6 168.5L169.1 168.2L171.6 169.9L174.3 168.5M154.9 173.8L156.2 172.5L157.4 172.0L159.3 172.8L160.9 174.0L162.7 174.2L163.2 174.5M159.8 182.3L161.7 181.8L165.4 180.7L167.3 180.1L167.7 178.8L165.7 178.2L165.2 177.3M165.4 180.7L166.0 182.2M157.4 172.0L158.8 170.5L159.5 168.5M190.2 179.4L191.5 177.5L193.4 174.6M194.0 177.5L194.9 179.9L193.5 181.3L194.3 183.8L194.2 186.3M194.9 179.9L196.1 178.4M195.2 181.6L197.4 181.1L198.3 183.5L199.5 183.5L199.6 184.9L198.6 185.7L197.7 186.1M196.4 185.0L196.3 183.7L198.3 183.5M209.9 166.5L212.1 165.4L213.7 164.8M210.9 168.1L212.3 167.5M188.1 178.9L187.7 176.3L190.0 176.8L190.2 179.4M183.2 173.5L182.6 174.3L187.6 175.9L187.5 175.2M220.1 194.1L220.1 198.1M158.7 164.3L161.7 165.4L163.3 165.2M169.5 162.4L167.9 165.6M174.0 164.3L176.8 165.1L178.9 164.3L182.7 164.9M200.9 191.6L202.3 191.8L203.8 191.3L204.4 189.9L205.6 189.9M196.1 188.6L195.0 188.5" fill="none" stroke="#b4bccb" stroke-width="0.35" stroke-opacity="0.8" stroke-linejoin="round"/>
<path d="M162.4 162.5L164.8 161.5L166.0 162.8L164.8 163.2L164.4 165.1L165.7 165.4L166.5 167.3L166.3 168.7L164.5 168.7L163.6 167.6L163.8 165.8L162.7 164.3Z" fill="#f5f5f5"/>
<!-- decorative curves -->
<defs><linearGradient id="fy" gradientUnits="userSpaceOnUse" x1="0" y1="0" x2="540" y2="0"><stop offset="0" stop-color="#f4c64e" stop-opacity="0.95"/><stop offset="0.85" stop-color="#f4c64e" stop-opacity="0.9"/><stop offset="0.93" stop-color="#f4c64e" stop-opacity="0.5"/><stop offset="1" stop-color="#f4c64e" stop-opacity="0"/></linearGradient><linearGradient id="fg" gradientUnits="userSpaceOnUse" x1="0" y1="0" x2="545" y2="0"><stop offset="0" stop-color="#c4c4c4" stop-opacity="1"/><stop offset="0.88" stop-color="#c4c4c4" stop-opacity="0.9"/><stop offset="1" stop-color="#c4c4c4" stop-opacity="0"/></linearGradient></defs><path d="M11.0 310.0C12.9 309.3 18.5 308.2 22.5 306.0C26.5 303.8 30.8 301.3 35.0 297.0C39.2 292.7 43.8 284.9 47.5 280.0C51.2 275.1 54.2 271.7 57.5 267.5C60.8 263.3 64.2 258.1 67.5 255.0C70.8 251.9 73.3 250.2 77.5 248.7C81.7 247.2 87.1 247.0 92.5 246.0C97.9 245.0 104.2 244.6 110.0 242.5C115.8 240.4 121.7 237.0 127.5 233.7C133.3 230.4 138.8 225.6 145.0 222.5C151.2 219.4 157.4 217.3 165.0 215.0C172.6 212.7 185.3 211.4 190.5 208.7C195.7 206.0 192.1 202.8 196.0 199.0C199.9 195.2 208.0 189.1 213.8 185.9C219.6 182.7 225.2 179.8 231.0 180.0C236.8 180.2 243.9 184.0 248.7 187.0C253.5 190.0 256.0 193.0 260.0 198.0C264.0 203.0 268.3 210.0 272.5 217.0C276.7 224.0 280.8 234.2 285.0 240.0C289.2 245.8 292.7 249.1 297.5 252.0C302.3 254.9 308.5 257.6 314.0 257.6C319.5 257.6 325.9 255.3 330.7 252.0C335.5 248.7 339.2 243.5 343.0 237.7C346.8 231.9 350.1 223.9 353.6 217.0C357.1 210.1 360.5 201.2 364.0 196.0C367.5 190.8 370.2 188.0 374.4 185.6C378.6 183.2 381.7 182.7 389.0 181.5C396.3 180.3 409.7 180.1 418.0 178.6C426.3 177.1 432.1 173.8 439.0 172.3C445.9 170.8 452.8 170.6 459.7 169.8C466.6 169.0 474.9 169.2 480.5 167.7C486.1 166.2 488.8 163.9 493.0 160.7C497.2 157.4 501.3 152.4 505.5 148.2C509.7 144.0 513.8 138.7 518.0 135.7C522.2 132.7 526.7 131.5 530.5 130.3C534.3 129.1 539.2 128.9 541.0 128.6" fill="none" stroke="url(#fg)" stroke-width="0.8" opacity="0.8"/><path d="M11.0 310.0C12.9 309.3 18.5 308.3 22.5 306.0C26.5 303.7 30.8 301.2 35.0 296.0C39.2 290.8 43.3 283.5 47.5 275.0C51.7 266.5 55.8 252.7 60.0 245.0C64.2 237.3 68.3 232.0 72.5 228.7C76.7 225.4 80.8 225.5 85.0 225.0C89.2 224.5 93.3 224.9 97.5 225.7C101.7 226.5 105.8 228.0 110.0 230.0C114.2 232.0 118.3 235.0 122.5 237.5C126.7 240.0 130.4 242.8 135.0 245.0C139.6 247.2 145.0 249.7 150.0 251.0C155.0 252.3 160.0 253.4 165.0 253.0C170.0 252.6 175.8 250.9 180.0 248.7C184.2 246.5 186.8 245.4 190.5 240.0C194.2 234.6 198.1 222.3 202.0 216.4C205.9 210.5 209.5 208.0 213.8 204.8C218.1 201.7 223.1 198.5 228.0 197.5C232.9 196.5 238.1 197.1 243.0 199.0C247.9 200.9 252.6 203.2 257.5 209.0C262.4 214.8 267.9 225.2 272.5 233.5C277.1 241.8 280.8 251.6 285.0 258.5C289.2 265.4 292.7 271.2 297.5 275.0C302.3 278.8 308.5 280.8 314.0 281.4C319.5 282.0 325.1 280.5 330.7 278.4C336.3 276.3 342.9 272.3 347.4 269.0C351.9 265.7 353.2 262.8 357.8 258.5C362.4 254.2 368.0 247.4 375.0 243.0C382.0 238.6 392.5 234.8 400.0 232.0C407.5 229.2 413.7 229.2 420.0 226.0C426.3 222.8 433.5 216.3 438.0 212.7C442.5 209.1 443.4 206.5 447.0 204.4C450.6 202.3 455.5 201.1 459.7 200.0C463.9 198.9 467.8 200.4 472.0 198.0C476.2 195.6 480.5 191.5 484.7 185.6C488.9 179.7 492.8 171.4 497.0 162.7C501.2 154.0 505.9 141.5 509.7 133.6C513.5 125.6 516.9 120.2 520.0 115.0C523.1 109.8 527.0 104.5 528.4 102.4" fill="none" stroke="url(#fy)" stroke-width="0.8" opacity="0.85"/>
<!-- left text -->
<text x="28.35" y="270.3" font-size="17.1" fill="#a3a3a3" font-weight="normal" textLength="43.08" lengthAdjust="spacingAndGlyphs" stroke="#a3a3a3" stroke-width="0.8" stroke-linejoin="round">CAGR</text><text x="77.07" y="270.3" font-size="17.1" fill="#a3a3a3" font-weight="normal" textLength="19.58" lengthAdjust="spacingAndGlyphs" stroke="#a3a3a3" stroke-width="0.8" stroke-linejoin="round">OF</text>
<text x="28.44" y="311.8" font-size="40.8" fill="#3a78b8" font-weight="normal" textLength="87.07" lengthAdjust="spacingAndGlyphs" stroke="#3a78b8" stroke-width="1.0" stroke-linejoin="round">4.8%</text>
<text x="28.02" y="345.77500000000003" font-size="17.1" fill="#1b1b1b" font-weight="normal" textLength="26.19" lengthAdjust="spacingAndGlyphs" stroke="#1b1b1b" stroke-width="0.25" stroke-linejoin="round">The</text><text x="58.46" y="345.77500000000003" font-size="17.1" fill="#1b1b1b" font-weight="normal" textLength="44.26" lengthAdjust="spacingAndGlyphs" stroke="#1b1b1b" stroke-width="0.25" stroke-linejoin="round">global</text><text x="106.25" y="345.77500000000003" font-size="17.1" fill="#1b1b1b" font-weight="normal" textLength="51.94" lengthAdjust="spacingAndGlyphs" stroke="#1b1b1b" stroke-width="0.25" stroke-linejoin="round">aircraft</text><text x="162.41" y="345.77500000000003" font-size="17.1" fill="#1b1b1b" font-weight="normal" textLength="55.07" lengthAdjust="spacingAndGlyphs" stroke="#1b1b1b" stroke-width="0.25" stroke-linejoin="round">seating</text><text x="27.22" y="365.675" font-size="17.1" fill="#1b1b1b" font-weight="normal" textLength="52.06" lengthAdjust="spacingAndGlyphs" stroke="#1b1b1b" stroke-width="0.25" stroke-linejoin="round">market</text><text x="84.32" y="365.675" font-size="17.1" fill="#1b1b1b" font-weight="normal" textLength="10.08" lengthAdjust="spacingAndGlyphs" stroke="#1b1b1b" stroke-width="0.25" stroke-linejoin="round">is</text><text x="98.56" y="365.675" font-size="17.1" fill="#1b1b1b" font-weight="normal" textLength="67.58" lengthAdjust="spacingAndGlyphs" stroke="#1b1b1b" stroke-width="0.25" stroke-linejoin="round">expected</text><text x="170.17" y="365.675" font-size="17.1" fill="#1b1b1b" font-weight="normal" textLength="14.17" lengthAdjust="spacingAndGlyphs" stroke="#1b1b1b" stroke-width="0.25" stroke-linejoin="round">to</text><text x="188.75" y="365.675" font-size="17.1" fill="#1b1b1b" font-weight="normal" textLength="18.41" lengthAdjust="spacingAndGlyphs" stroke="#1b1b1b" stroke-width="0.25" stroke-linejoin="round">be</text><text x="28.12" y="386.175" font-size="17.1" fill="#1b1b1b" font-weight="normal" textLength="40.43" lengthAdjust="spacingAndGlyphs" stroke="#1b1b1b" stroke-width="0.25" stroke-linejoin="round">worth</text><text x="71.99" y="386.175" font-size="17.1" fill="#1b1b1b" font-weight="normal" textLength="31.88" lengthAdjust="spacingAndGlyphs" stroke="#1b1b1b" stroke-width="0.25" stroke-linejoin="round">USD</text><text x="108.66" y="386.175" font-size="17.1" fill="#1b1b1b" font-weight="normal" textLength="33.96" lengthAdjust="spacingAndGlyphs" stroke="#1b1b1b" stroke-width="0.25" stroke-linejoin="round">11.2</text><text x="146.68" y="386.175" font-size="17.1" fill="#1b1b1b" font-weight="normal" textLength="45.19" lengthAdjust="spacingAndGlyphs" stroke="#1b1b1b" stroke-width="0.25" stroke-linejoin="round">billion</text><text x="195.88" y="386.175" font-size="17.1" fill="#1b1b1b" font-weight="normal" textLength="15.42" lengthAdjust="spacingAndGlyphs" stroke="#1b1b1b" stroke-width="0.25" stroke-linejoin="round">by</text><text x="27.94" y="406.475" font-size="17.1" fill="#1b1b1b" font-weight="normal" textLength="44.18" lengthAdjust="spacingAndGlyphs" stroke="#1b1b1b" stroke-width="0.25" stroke-linejoin="round">2029,</text><text x="75.97" y="406.475" font-size="17.1" fill="#1b1b1b" font-weight="normal" textLength="57.51" lengthAdjust="spacingAndGlyphs" stroke="#1b1b1b" stroke-width="0.25" stroke-linejoin="round">growing</text><text x="137.78" y="406.475" font-size="17.1" fill="#1b1b1b" font-weight="normal" textLength="13.44" lengthAdjust="spacingAndGlyphs" stroke="#1b1b1b" stroke-width="0.25" stroke-linejoin="round">at</text><text x="156.01" y="406.475" font-size="17.1" fill="#1b1b1b" font-weight="normal" textLength="8.59" lengthAdjust="spacingAndGlyphs" stroke="#1b1b1b" stroke-width="0.25" stroke-linejoin="round">a</text><text x="169.93" y="406.475" font-size="17.1" fill="#1b1b1b" font-weight="normal" textLength="40.13" lengthAdjust="spacingAndGlyphs" stroke="#1b1b1b" stroke-width="0.25" stroke-linejoin="round">CAGR</text><text x="214.75" y="406.475" font-size="17.1" fill="#1b1b1b" font-weight="normal" textLength="14.0" lengthAdjust="spacingAndGlyphs" stroke="#1b1b1b" stroke-width="0.25" stroke-linejoin="round">of</text><text x="27.81" y="427.07500000000005" font-size="17.1" fill="#1b1b1b" font-weight="normal" textLength="36.32" lengthAdjust="spacingAndGlyphs" stroke="#1b1b1b" stroke-width="0.25" stroke-linejoin="round">4.8%</text><text x="68.97" y="427.07500000000005" font-size="17.1" fill="#1b1b1b" font-weight="normal" textLength="45.78" lengthAdjust="spacingAndGlyphs" stroke="#1b1b1b" stroke-width="0.25" stroke-linejoin="round">during</text><text x="119.58" y="427.07500000000005" font-size="17.1" fill="#1b1b1b" font-weight="normal" textLength="22.42" lengthAdjust="spacingAndGlyphs" stroke="#1b1b1b" stroke-width="0.25" stroke-linejoin="round">the</text><text x="146.37" y="427.07500000000005" font-size="17.1" fill="#1b1b1b" font-weight="normal" textLength="59.62" lengthAdjust="spacingAndGlyphs" stroke="#1b1b1b" stroke-width="0.25" stroke-linejoin="round">forecast</text><text x="27.24" y="447.675" font-size="17.1" fill="#1b1b1b" font-weight="normal" textLength="51.19" lengthAdjust="spacingAndGlyphs" stroke="#1b1b1b" stroke-width="0.25" stroke-linejoin="round">period.</text>
<!-- chart -->
<line x1="302" y1="391.5" x2="877" y2="391.5" stroke="#d9d9d9" stroke-width="1"/>
<rect x="358.4" y="202" width="79.6" height="2.1" fill="#35173f"/><rect x="358.4" y="204.1" width="79.6" height="11.0" fill="#70aa46"/><rect x="358.4" y="215.1" width="79.6" height="4.2" fill="#7f7f7f"/><rect x="358.4" y="219.3" width="79.6" height="22.0" fill="#fc9640"/><rect x="358.4" y="241.3" width="79.6" height="52.0" fill="#3a78b8"/><rect x="358.5" y="293.6" width="79.39999999999999" height="97.9" fill="#b83a30" stroke="#98211a" stroke-width="0.8"/><rect x="550.7" y="200" width="79.4" height="2.0" fill="#35173f"/><rect x="550.7" y="202" width="79.4" height="13.0" fill="#70aa46"/><rect x="550.7" y="215" width="79.4" height="4.3" fill="#7f7f7f"/><rect x="550.7" y="219.3" width="79.4" height="24.0" fill="#fc9640"/><rect x="550.7" y="243.3" width="79.4" height="47.7" fill="#3a78b8"/><rect x="550.8000000000001" y="291.3" width="79.2" height="100.2" fill="#b83a30" stroke="#98211a" stroke-width="0.8"/><rect x="742.3" y="154" width="80" height="2.0" fill="#35173f"/><rect x="742.3" y="156" width="80" height="16.1" fill="#70aa46"/><rect x="742.3" y="172.1" width="80" height="3.7" fill="#7f7f7f"/><rect x="742.3" y="175.8" width="80" height="26.2" fill="#fc9640"/><rect x="742.3" y="202" width="80" height="63.7" fill="#3a78b8"/><rect x="742.4" y="266.0" width="79.8" height="125.5" fill="#b83a30" stroke="#98211a" stroke-width="0.8"/>
<text x="380.2" y="414.8" font-size="15.4" fill="#1f1f1f" font-weight="normal" textLength="35.74" lengthAdjust="spacingAndGlyphs">2023</text><text x="572.3" y="414.8" font-size="15.4" fill="#1f1f1f" font-weight="normal" textLength="35.78" lengthAdjust="spacingAndGlyphs">2024</text><text x="764.19" y="414.8" font-size="15.4" fill="#1f1f1f" font-weight="normal" textLength="36.03" lengthAdjust="spacingAndGlyphs">2029</text>
<!-- arrow + bubble -->
<line x1="630.5" y1="202.8" x2="735" y2="156.5" stroke="#dadada" stroke-width="1"/>
<path d="M738.500 155L731.500 154.500L734 160Z" fill="#c8c8c8"/>
<circle cx="682.6" cy="180.8" r="26.2" fill="#fa8215"/>
<text x="667.34" y="185.4" font-size="15.4" fill="#ffffff" font-weight="bold" textLength="24.39" lengthAdjust="spacingAndGlyphs">4.8</text><text x="692.16" y="185.5" font-size="9.6" fill="#ffffff" font-weight="bold" textLength="8.36" lengthAdjust="spacingAndGlyphs">%</text>
<!-- legend -->
<rect x="328.3" y="457.2" width="6.9" height="6.8" fill="#b83a30"/><text x="338.27" y="464.9" font-size="12.4" fill="#1a1a1a" font-weight="normal" textLength="31.58" lengthAdjust="spacingAndGlyphs">North</text><text x="372.9" y="464.9" font-size="12.4" fill="#1a1a1a" font-weight="normal" textLength="43.53" lengthAdjust="spacingAndGlyphs">America</text><rect x="434" y="457.2" width="6.9" height="6.8" fill="#3a78b8"/><text x="443.22" y="464.9" font-size="12.4" fill="#1a1a1a" font-weight="normal" textLength="39.32" lengthAdjust="spacingAndGlyphs">Europe</text><rect x="499.2" y="457.2" width="6.9" height="6.8" fill="#fc9640"/><text x="508.9" y="464.9" font-size="12.4" fill="#1a1a1a" font-weight="normal" textLength="61.88" lengthAdjust="spacingAndGlyphs">Asia-Pacific</text><rect x="588.4" y="457.2" width="6.9" height="6.8" fill="#7f7f7f"/><text x="597.73" y="464.9" font-size="12.4" fill="#1a1a1a" font-weight="normal" textLength="63.89" lengthAdjust="spacingAndGlyphs">Middle-East</text><text x="665.6" y="464.9" font-size="12.4" fill="#1a1a1a" font-weight="normal" textLength="30.41" lengthAdjust="spacingAndGlyphs">Africa</text><rect x="713.2" y="457.2" width="6.9" height="6.8" fill="#70aa46"/><text x="722.67" y="464.9" font-size="12.4" fill="#1a1a1a" font-weight="normal" textLength="27.8" lengthAdjust="spacingAndGlyphs">Latin</text><text x="754.2" y="464.9" font-size="12.4" fill="#1a1a1a" font-weight="normal" textLength="43.63" lengthAdjust="spacingAndGlyphs">America</text><rect x="814.9" y="457.2" width="6.9" height="6.8" fill="#43234f"/><text x="825.8" y="464.9" font-size="12.4" fill="#1a1a1a" font-weight="normal" textLength="29.61" lengthAdjust="spacingAndGlyphs">Africa</text>
</svg>
</body></html>
